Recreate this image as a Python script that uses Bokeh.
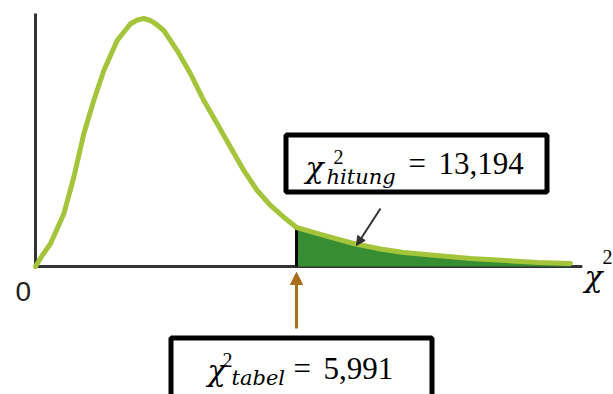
from bokeh.plotting import figure
from bokeh.models import Range1d, Label, Arrow, NormalHead
from bokeh.embed import file_html
from bokeh.resources import INLINE

# ---- data (chi-square like density, arbitrary units) ----
chi_x = [0.0, 0.154, 0.344, 0.650, 0.879, 1.109, 1.338, 1.568, 1.875, 2.180, 2.341, 2.486,
         2.639, 2.777, 2.945, 3.252, 3.557, 3.863, 4.170, 4.476, 4.781, 5.088, 5.394, 5.699,
         5.991, 6.541, 7.299, 7.918, 8.446, 9.984, 11.522, 12.279]
density = [0.0, 0.0111, 0.0229, 0.0531, 0.0900, 0.1338, 0.1673, 0.1976, 0.2278, 0.2447, 0.2485, 0.2500,
           0.2480, 0.2440, 0.2379, 0.2177, 0.1943, 0.1673, 0.1439, 0.1203, 0.0968, 0.0766, 0.0615, 0.0497,
           0.0393, 0.0323, 0.0232, 0.0176, 0.0141, 0.0081, 0.0040, 0.0030]
chi_tabel = 5.991
chi_hitung = 13.194
axis_x_end = 12.55
axis_y_top = 0.255

# ---- layout helpers (picture pixel -> data) ----
SX, SY = 43.57, 992.0
OX, OY = 35.0, 266.0
def X(px):
    return (px - OX) / SX
def Y(py):
    return (OY - py) / SY

W, H = 613, 394
p = figure(width=W, height=H, output_backend="svg", toolbar_location=None,
           x_range=Range1d(X(0), X(W)), y_range=Range1d(Y(H), Y(0)),
           x_axis_location=None, y_axis_location=None, min_border=0,
           tools="")
p.grid.visible = False
p.outline_line_color = None
p.background_fill_color = "white"
p.border_fill_color = "white"

# axes lines
p.segment(x0=[0, 0], y0=[0, 0], x1=[axis_x_end, 0], y1=[0, axis_y_top],
          line_color="#333333", line_width=3)

# shaded tail
i0 = chi_x.index(chi_tabel)
p.varea(x=chi_x[i0:], y1=[0] * len(chi_x[i0:]), y2=density[i0:], fill_color="#368d32")
p.segment(x0=[chi_tabel], y0=[0], x1=[chi_tabel], y1=[density[i0]],
          line_color="black", line_width=3)

# curve
p.line(chi_x, density, line_color="#a4c43c", line_width=5, line_join="round", line_cap="round")

# arrows
brown = "#a86e1c"
p.add_layout(Arrow(end=NormalHead(size=12, fill_color=brown, line_color=brown),
                   x_start=chi_tabel, y_start=Y(328), x_end=chi_tabel, y_end=Y(272),
                   line_color=brown, line_width=3))
p.add_layout(Arrow(end=NormalHead(size=9, fill_color="#333333", line_color="#333333"),
                   x_start=X(380), y_start=Y(208), x_end=X(356), y_end=Y(245),
                   line_color="#333333", line_width=2))

# boxes
p.quad(left=[X(285.5), X(170.5)], right=[X(546.5), X(431.5)],
       top=[Y(134.5), Y(337.5)], bottom=[Y(191.5), Y(402)],
       fill_color="white", line_color="black", line_width=5)

def fmt(v):
    return f"{v:.3f}".replace(".", ",")

SERIF = "Liberation Serif"
MATH = "DejaVu Serif"
def lab(txt, px, py, size, style="normal", font=SERIF, color="black"):
    # py is the wanted baseline in picture pixels
    p.add_layout(Label(x=X(px), y=Y(py - 0.38 * size), text=txt, text_font=font,
                       text_font_size=f"{size}px", text_font_style=style,
                       text_color=color, text_baseline="alphabetic", text_align="left"))

# upper box text
lab("χ", 305, 178, 30, "italic", MATH)
lab("2", 333, 164, 20)
lab("hitung", 326, 184, 21, "italic", MATH)
lab("=", 408, 175, 31)
lab(fmt(chi_hitung), 438, 175, 31)

# lower box text
lab("χ", 207, 381, 30, "italic", MATH)
lab("2", 222, 367, 20)
lab("tabel", 231, 385, 21, "italic", MATH)
lab("=", 293, 380, 31)
lab(fmt(chi_tabel), 323, 380, 31)

# axis labels
lab("0", 15, 302, 28, font="Liberation Sans", color="#222222")
lab("χ", 584, 287, 30, "italic", MATH)
lab("2", 602, 264, 20)

open("out.html", "w").write(file_html(p, INLINE))
